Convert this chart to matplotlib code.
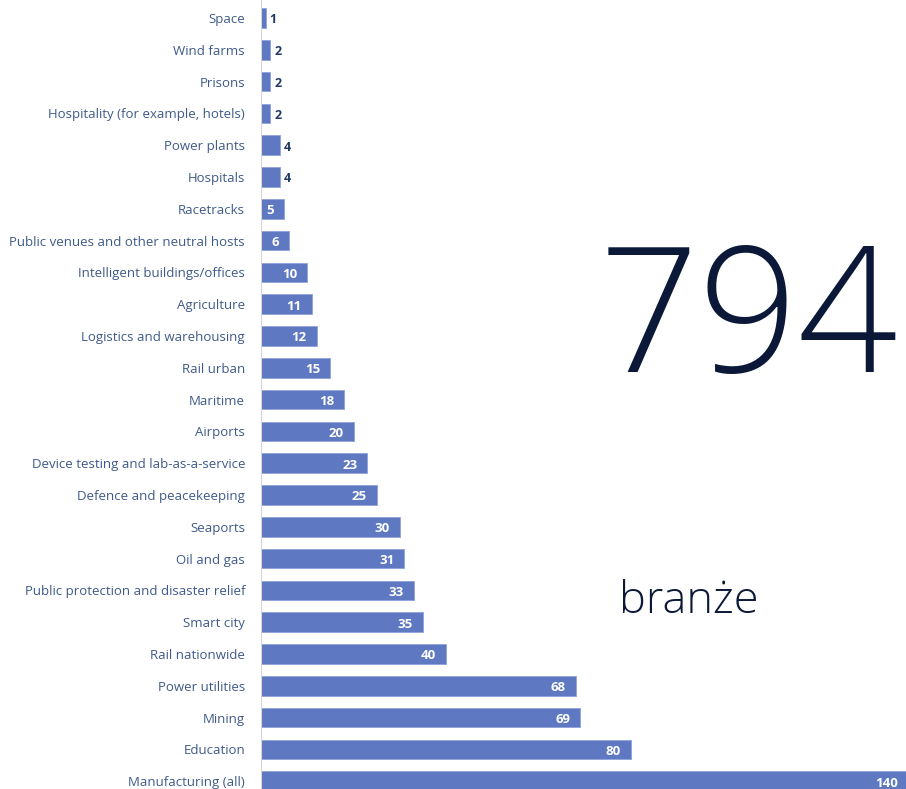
import matplotlib
matplotlib.use("Agg")
import matplotlib.pyplot as plt
import matplotlib.transforms as mtransforms

categories = [
    "Space", "Wind farms", "Prisons", "Hospitality (for example, hotels)",
    "Power plants", "Hospitals", "Racetracks", "Public venues and other neutral hosts",
    "Intelligent buildings/offices", "Agriculture", "Logistics and warehousing",
    "Rail urban", "Maritime", "Airports", "Device testing and lab-as-a-service",
    "Defence and peacekeeping", "Seaports", "Oil and gas",
    "Public protection and disaster relief", "Smart city", "Rail nationwide",
    "Power utilities", "Mining", "Education", "Manufacturing (all)",
]
values = [1, 2, 2, 2, 4, 4, 5, 6, 10, 11, 12, 15, 18, 20, 23, 25, 30, 31, 33, 35, 40, 68, 69, 80, 140]
total_label = "794"
subtitle = "branże"

W, H = 906, 789
fig = plt.figure(figsize=(W / 100, H / 100), dpi=100)
fig.patch.set_facecolor("white")

x0 = 261
ax = fig.add_axes([x0 / W, 0, 1 - x0 / W, 1])
pitch = 31.8
first = 18
ax.set_ylim((H - first) / pitch, -first / pitch)
ax.set_xlim(0, (W - x0) / 4.625)

bar_color = "#5e79c2"
label_color = "#3f5a8a"
out_color = "#1f3864"

ys = list(range(len(categories)))
ax.barh(ys, values, height=0.62, color=bar_color, edgecolor="#8fa3d8", linewidth=0.6)

for s in ax.spines.values():
    s.set_visible(False)
ax.axvline(0, color="#d4d4d4", linewidth=1.5, zorder=3)
ax.set_xticks([])
ax.set_yticks(ys)
ax.set_yticklabels(categories, fontsize=9.5, color=label_color, family="Open Sans")
ax.tick_params(axis="y", length=0, pad=11.5)

for y, v in zip(ys, values):
    if v < 5:
        off = mtransforms.offset_copy(ax.transData, fig=fig, x=4, y=0, units="dots")
        ax.text(v, y + 0.06, str(v), transform=off, ha="left", va="center",
                fontsize=9, fontweight="bold", color=out_color, family="Open Sans")
    else:
        off = mtransforms.offset_copy(ax.transData, fig=fig, x=-10, y=0, units="dots")
        ax.text(min(v, ax.get_xlim()[1] + 0.5), y + 0.06, str(v), transform=off, ha="right", va="center",
                fontsize=9.5, fontweight="bold", color="white", family="Open Sans")

fig.text(599 / W, 1 - 372 / H, total_label, fontsize=126, color="#0b1838",
         family="Open Sans", fontweight="light", ha="left", va="baseline")
fig.text(619 / W, 1 - 613 / H, subtitle, fontsize=32.5, color="#0b1838",
         family="Open Sans", fontweight="light", ha="left", va="baseline")

fig.savefig("out.png", dpi=100)
